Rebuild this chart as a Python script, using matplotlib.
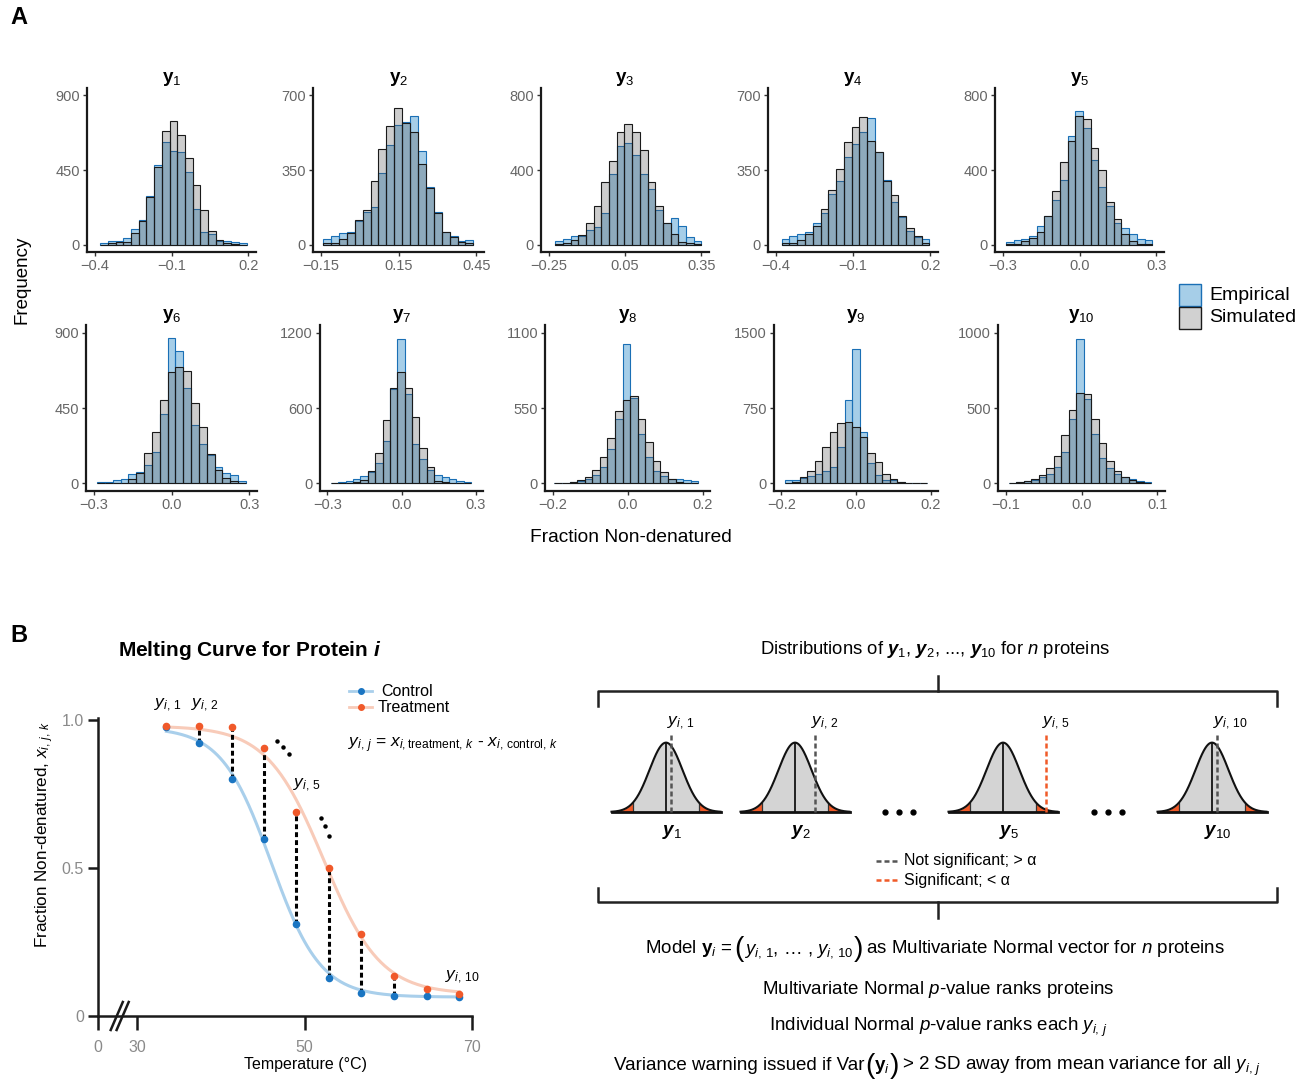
import numpy as np
import matplotlib
matplotlib.use("Agg")
import matplotlib.pyplot as plt
from matplotlib.patches import Rectangle

plt.rcParams['font.family'] = ['Liberation Sans', 'DejaVu Sans']
plt.rcParams['mathtext.fontset'] = 'custom'
plt.rcParams['mathtext.rm'] = 'Liberation Sans'
plt.rcParams['mathtext.sf'] = 'Liberation Sans'
plt.rcParams['mathtext.it'] = 'Liberation Sans:italic'
plt.rcParams['mathtext.bf'] = 'Liberation Sans:bold'
plt.rcParams['mathtext.bfit'] = 'Liberation Sans:italic:bold'

# ---------------- panel A data: histogram counts (19 equal bins per panel)
bin_lo = [-0.378, -0.141, -0.224, -0.377, -0.287, -0.287, -0.286, -0.195, -0.191, -0.096]
bin_hi = [0.193, 0.439, 0.350, 0.197, 0.284, 0.287, 0.282, 0.189, 0.191, 0.092]

e1 = [10, 22, 22, 40, 91, 146, 293, 479, 621, 566, 556, 435, 216, 77, 61, 24, 20, 14, 10]
s1 = [0, 10, 14, 14, 71, 142, 287, 469, 684, 748, 661, 520, 360, 208, 81, 26, 10, 6, 0]
e2 = [24, 39, 55, 60, 110, 154, 178, 338, 467, 563, 577, 602, 437, 270, 154, 60, 42, 16, 19]
s2 = [5, 8, 27, 52, 113, 164, 300, 448, 555, 640, 569, 527, 377, 264, 148, 60, 35, 13, 5]
e3 = [18, 31, 45, 45, 77, 95, 171, 381, 531, 543, 480, 381, 297, 183, 117, 144, 99, 40, 18]
s3 = [4, 9, 25, 50, 117, 207, 338, 450, 606, 647, 606, 509, 333, 207, 117, 54, 14, 10, 4]
e4 = [27, 39, 50, 60, 102, 149, 236, 299, 409, 472, 527, 593, 436, 302, 201, 129, 63, 35, 27]
s4 = [5, 8, 19, 50, 86, 168, 256, 357, 483, 550, 597, 484, 436, 299, 233, 134, 79, 39, 8]
e5 = [14, 27, 32, 45, 99, 153, 237, 347, 581, 716, 624, 453, 311, 207, 117, 90, 58, 31, 27]
s5 = [4, 5, 18, 36, 68, 153, 288, 441, 554, 692, 671, 518, 401, 228, 138, 58, 18, 5, 4]
e6 = [10, 10, 22, 28, 54, 69, 113, 190, 412, 870, 789, 567, 351, 238, 169, 97, 63, 48, 16]
s6 = [0, 0, 0, 4, 28, 65, 184, 305, 500, 664, 694, 672, 480, 339, 174, 83, 32, 12, 4]
e7 = [5, 8, 16, 38, 56, 91, 159, 339, 748, 1146, 710, 312, 191, 110, 65, 48, 35, 16, 8]
s7 = [0, 0, 3, 8, 30, 97, 245, 508, 756, 890, 756, 527, 285, 129, 22, 8, 3, 0, 0]
e8 = [4, 6, 10, 16, 30, 60, 120, 250, 470, 1020, 620, 360, 190, 90, 55, 35, 30, 25, 20]
s8 = [2, 4, 10, 22, 50, 95, 190, 330, 530, 610, 640, 470, 300, 165, 80, 35, 14, 6, 2]
e9 = [37, 37, 54, 77, 98, 128, 161, 363, 827, 1332, 515, 205, 87, 34, 34, 10, 7, 3, 0]
s9 = [7, 17, 61, 121, 222, 367, 515, 602, 609, 565, 464, 299, 209, 98, 44, 17, 7, 0, 0]
e10 = [6, 10, 16, 24, 40, 65, 110, 210, 430, 960, 560, 330, 170, 100, 65, 45, 30, 18, 10]
s10 = [3, 8, 14, 28, 55, 100, 180, 320, 490, 600, 590, 430, 270, 150, 80, 40, 20, 8, 3]

emp_counts = [e1, e2, e3, e4, e5, e6, e7, e8, e9, e10]
sim_counts = [s1, s2, s3, s4, s5, s6, s7, s8, s9, s10]

x_ticks = [[-0.4, -0.1, 0.2], [-0.15, 0.15, 0.45], [-0.25, 0.05, 0.35], [-0.4, -0.1, 0.2],
           [-0.3, 0.0, 0.3], [-0.3, 0.0, 0.3], [-0.3, 0.0, 0.3], [-0.2, 0.0, 0.2],
           [-0.2, 0.0, 0.2], [-0.1, 0.0, 0.1]]
x_tick_labels = [['\u22120.4', '\u22120.1', '0.2'], ['\u22120.15', '0.15', '0.45'],
                 ['\u22120.25', '0.05', '0.35'], ['\u22120.4', '\u22120.1', '0.2'],
                 ['\u22120.3', '0.0', '0.3'], ['\u22120.3', '0.0', '0.3'],
                 ['\u22120.3', '0.0', '0.3'], ['\u22120.2', '0.0', '0.2'],
                 ['\u22120.2', '0.0', '0.2'], ['\u22120.1', '0.0', '0.1']]
y_max = [900, 700, 800, 700, 800, 900, 1200, 1100, 1500, 1000]

# ---------------- panel B data
temps = [33.5, 37.4, 41.3, 45.2, 49.0, 52.9, 56.8, 60.7, 64.6, 68.5]
control = [0.975, 0.923, 0.802, 0.597, 0.312, 0.128, 0.079, 0.068, 0.066, 0.064]
treatment = [0.980, 0.979, 0.978, 0.904, 0.689, 0.500, 0.276, 0.136, 0.091, 0.074]

bell_names = ['1', '2', '5', '10']
bell_obs_z = [0.32, 1.24, 2.63, 0.32]
alpha_z = 2.0

W, H = 1301, 1082
fig = plt.figure(figsize=(W / 100, H / 100), dpi=100)


def px_axes(l, t, r, b):
    return fig.add_axes([l / W, 1 - b / H, (r - l) / W, (b - t) / H])


EMP_FACE = (0.0, 0.45, 0.75, 0.35)
EMP_EDGE = '#1a6fb5'
SIM_FACE = (0.35, 0.35, 0.35, 0.30)
SIM_EDGE = '#1a1a1a'

hist_left = [[87, 313, 541, 768, 995], [86, 320, 545, 774, 998]]
hist_right = [[256, 484, 709, 938, 1164], [257, 483, 710, 938, 1165]]
row_top = [88, 325]
row_bottom = [252, 491]

for k in range(10):
    row, col = divmod(k, 5)
    ax = px_axes(hist_left[row][col], row_top[row], hist_right[row][col], row_bottom[row])
    edges = np.linspace(bin_lo[k], bin_hi[k], len(emp_counts[k]) + 1)
    widths = np.diff(edges)
    ax.bar(edges[:-1], emp_counts[k], width=widths, align='edge',
           facecolor=EMP_FACE, edgecolor=EMP_EDGE, linewidth=0.8)
    ax.bar(edges[:-1], sim_counts[k], width=widths, align='edge',
           facecolor=SIM_FACE, edgecolor=SIM_EDGE, linewidth=0.8)
    x0, x1 = x_ticks[k][0], x_ticks[k][-1]
    pad = 0.05 * (x1 - x0)
    ax.set_xlim(x0 - pad, x1 + pad)
    ax.set_ylim(-0.05 * y_max[k], 1.05 * y_max[k])
    ax.set_xticks(x_ticks[k])
    ax.set_xticklabels(x_tick_labels[k])
    ax.set_yticks([0, y_max[k] / 2, y_max[k]])
    ax.set_yticklabels(['0', str(int(y_max[k] / 2)), str(y_max[k])])
    for s in ['top', 'right']:
        ax.spines[s].set_visible(False)
    for s in ['left', 'bottom']:
        ax.spines[s].set_linewidth(1.6)
        ax.spines[s].set_color('#1a1a1a')
    ax.tick_params(length=3, width=1, color='#333333', labelcolor='#666666',
                   labelsize=10.5, pad=2)
    ax.set_title(r'$\mathbf{y}_{\mathrm{%d}}$' % (k + 1), fontsize=13.5, pad=4)

# ---------------- panel B left: melting curve
axm = px_axes(98, 718, 472, 1016)


def fit_sigmoid(t, y):
    t = np.asarray(t)
    y = np.asarray(y)
    top, bottom = y.max(), y.min()
    tm = np.arange(40, 60, 0.05)[:, None, None]
    sc = np.arange(0.8, 5, 0.02)[None, :, None]
    pred = bottom + (top - bottom) / (1 + np.exp((t[None, None, :] - tm) / sc))
    err = ((pred - y[None, None, :]) ** 2).sum(axis=2)
    i, j = np.unravel_index(np.argmin(err), err.shape)
    return top, bottom, tm[i, 0, 0], sc[0, j, 0]


tt = np.linspace(temps[0], temps[-1], 300)
for vals, line_c in [(control, '#a9cfeb'), (treatment, '#f8cbb9')]:
    top, bottom, tm, sc = fit_sigmoid(temps, vals)
    axm.plot(tt, bottom + (top - bottom) / (1 + np.exp((tt - tm) / sc)),
             color=line_c, lw=2.2, zorder=2, clip_on=False)
axm.vlines(temps, control, treatment, colors='black', lw=2.2,
           linestyles=[(0, (1.6, 1.0))], zorder=3)
axm.scatter(temps, control, s=20, color='#1a75c2', zorder=4, clip_on=False)
axm.scatter(temps, treatment, s=20, color='#f0592a', zorder=4, clip_on=False)

axm.set_xlim(25.33, 70)
axm.set_ylim(0, 1.0068)
axm.set_xticks([25.33, 30, 50, 70])
axm.set_xticklabels(['0', '30', '50', '70'])
axm.set_yticks([0, 0.5, 1.0])
axm.set_yticklabels(['0', '0.5', '1.0'])
for s in ['top', 'right']:
    axm.spines[s].set_visible(False)
for s in ['left', 'bottom']:
    axm.spines[s].set_linewidth(1.8)
    axm.spines[s].set_color('#1a1a1a')
axm.tick_params(axis='x', length=10, width=1.8, color='#1a1a1a', labelcolor='#8a8a8a',
                labelsize=11.5, pad=7)
axm.tick_params(axis='y', length=7, width=1.8, color='#1a1a1a', labelcolor='#8a8a8a',
                labelsize=11.5, pad=3)

axm.text(33.7, 1.05, r'$y_{i,\,1}$', fontsize=12.5, ha='center', va='center')
axm.text(38.1, 1.05, r'$y_{i,\,2}$', fontsize=12.5, ha='center', va='center')
axm.text(50.3, 0.78, r'$y_{i,\,5}$', fontsize=12.5, ha='center', va='center')
axm.text(68.9, 0.13, r'$y_{i,\,10}$', fontsize=12.5, ha='center', va='center')

# ---------------- overlay in pixel coordinates for labels and schematic
ov = fig.add_axes([0, 0, 1, 1])
ov.set_xlim(0, W)
ov.set_ylim(H, 0)
ov.axis('off')
ov.patch.set_alpha(0)

ov.text(10, 18, 'A', fontsize=17, fontweight='bold', va='center')
ov.text(10, 636, 'B', fontsize=17, fontweight='bold', va='center')
ov.text(22, 280, 'Frequency', fontsize=13.5, rotation=90, ha='center', va='center')
ov.text(631, 537, 'Fraction Non-denatured', fontsize=13.8, ha='center', va='center')

ov.add_patch(Rectangle((1179, 284), 22, 22, facecolor=EMP_FACE, edgecolor=EMP_EDGE, lw=1))
ov.add_patch(Rectangle((1179, 307), 22, 22, facecolor=(0.82, 0.82, 0.82), edgecolor=SIM_EDGE, lw=1))
ov.text(1209, 295, 'Empirical', fontsize=14, va='center')
ov.text(1209, 318, 'Simulated', fontsize=14, va='center')

ov.text(250, 650, r'Melting Curve for Protein $\mathbfit{i}$', fontsize=15,
        fontweight='bold', ha='center', va='center')
ov.text(45, 835, r'Fraction Non-denatured, $x_{i,\,j,\,k}$', fontsize=12.3,
        rotation=90, ha='center', va='center')
ov.text(305, 1065, 'Temperature (\u00b0C)', fontsize=11.5, ha='center', va='center')

ov.plot([349, 372], [691, 691], color='#a9cfeb', lw=2)
ov.plot([360.5], [691], 'o', color='#1a75c2', ms=4)
ov.plot([349, 372], [707, 707], color='#f8cbb9', lw=2)
ov.plot([360.5], [707], 'o', color='#f0592a', ms=4)
ov.text(381, 691, 'Control', fontsize=11.5, va='center')
ov.text(378, 707, 'Treatment', fontsize=11.5, va='center')
ov.text(348, 745, r'$y_{i,\,j}$ = $x_{i,\mathrm{treatment},\,k}$ - $x_{i,\,\mathrm{control},\,k}$',
        fontsize=12.5, va='center')

ov.plot([277, 283, 289], [741, 747, 754], 'o', color='black', ms=2.2)
ov.plot([321, 325, 329], [818, 826, 836], 'o', color='black', ms=2.2)

# axis break marks
ov.plot([110.7, 122.8], [1030, 1002], color='#1a1a1a', lw=1.8)
ov.plot([116.6, 128.7], [1030, 1002], color='#1a1a1a', lw=1.8)

# ---------------- panel B right: schematic
ov.text(935, 649, r'Distributions of $\mathbfit{y}_1$, $\mathbfit{y}_2$, ..., $\mathbfit{y}_{10}$ for $n$ proteins',
        fontsize=13.3, ha='center', va='center')

BR = '#222222'
ov.plot([938, 938], [676, 691], color=BR, lw=1.8)
ov.plot([598, 598, 1277, 1277], [706, 691, 691, 706], color=BR, lw=1.8)
ov.plot([598, 598, 1277, 1277], [888, 902, 902, 888], color=BR, lw=1.8)
ov.plot([938, 938], [902, 918], color=BR, lw=1.8)

ORANGE = '#f05a28'
bell_centers = [666, 795, 1003, 1212]
z = np.linspace(-3.3, 3.3, 400)
pdf = np.exp(-z ** 2 / 2) / np.sqrt(2 * np.pi)
pdf2 = np.exp(-alpha_z ** 2 / 2) / np.sqrt(2 * np.pi)
for cx, name, zo in zip(bell_centers, bell_names, bell_obs_z):
    bx = px_axes(cx - 54.5, 732, cx + 54.5, 812)
    bx.set_xlim(-3.3, 3.3)
    bx.set_ylim(0, 0.46)
    bx.axis('off')
    bx.fill_between(z, 0, pdf, where=np.abs(z) <= alpha_z, color='#d4d4d4', lw=0)
    bx.fill_between(z, 0, pdf, where=z >= alpha_z, color=ORANGE, lw=0)
    bx.fill_between(z, 0, pdf, where=z <= -alpha_z, color=ORANGE, lw=0)
    bx.plot([-alpha_z, -alpha_z], [0, pdf2], color='#333333', lw=0.9)
    bx.plot([alpha_z, alpha_z], [0, pdf2], color='#333333', lw=0.9)
    bx.plot([0, 0], [0, pdf.max()], color='#222222', lw=1.4)
    bx.plot(z, pdf, color='#111111', lw=1.5, clip_on=False)
    bx.plot([-3.3, 3.3], [0, 0], color='#111111', lw=2, clip_on=False)
    sig_c = ORANGE if abs(zo) > alpha_z else '#555555'
    bx.plot([zo, zo], [0, 0.45], color=sig_c, lw=1.8, linestyle=(0, (2, 1.2)), clip_on=False)
    bx.text(zo - 0.25, 0.51, r'$y_{i,\,%s}$' % name, fontsize=12.5, ha='left', va='center')
    ov.text(cx + 6, 832, r'$\mathbfit{y}_{%s}$' % name, fontsize=13.5, ha='center', va='center')

for xs in ([885, 899, 913], [1094, 1108, 1122]):
    ov.plot(xs, [812] * 3, 'o', color='black', ms=3.5)

ov.plot([876, 900], [861, 861], color='#555555', lw=1.8, linestyle=(0, (2, 1.2)))
ov.plot([876, 900], [880, 880], color=ORANGE, lw=1.8, linestyle=(0, (2, 1.2)))
ov.text(904, 861, 'Not significant; > \u03b1', fontsize=11.5, va='center')
ov.text(904, 880, 'Significant; < \u03b1', fontsize=11.5, va='center')

renderer = fig.canvas.get_renderer()


def text_line(pieces, xc, base):
    # pieces: (string, fontsize, gap after in px, baseline shift in px)
    objs, adv = [], []
    for s, fs, gap, dy in pieces:
        t = ov.text(0, base + dy, s, fontsize=fs, ha='left', va='baseline')
        adv.append(t.get_window_extent(renderer).width + gap)
        objs.append(t)
    x = xc - (sum(adv) - pieces[-1][2]) / 2
    for t, a in zip(objs, adv):
        t.set_x(x)
        x += a


FS = 13.5
text_line([(r'Model $\mathbf{y}_i$ =', FS, 2, 0), ('(', 20, 0, 3),
           (r'$y_{i,\,1}$, ' + '\u2026' + r' , $y_{i,\,10}$', FS, 0, 0), (')', 20, 3, 3),
           (r'as Multivariate Normal vector for $n$ proteins', FS, 0, 0)], 935, 953)
ov.text(938, 990, r'Multivariate Normal $p$-value ranks proteins', fontsize=FS, ha='center', va='center')
ov.text(938, 1027, r'Individual Normal $p$-value ranks each $y_{i,\,j}$', fontsize=FS, ha='center', va='center')
text_line([('Variance warning issued if Var', FS, 0, 0), ('(', 20, 0, 3),
           (r'$\mathbf{y}_i$', FS, 0, 0), (')', 20, 3, 3),
           (r'> 2 SD away from mean variance for all $y_{i,\,j}$', FS, 0, 0)], 938, 1070)

fig.savefig('out.png', dpi=100)
